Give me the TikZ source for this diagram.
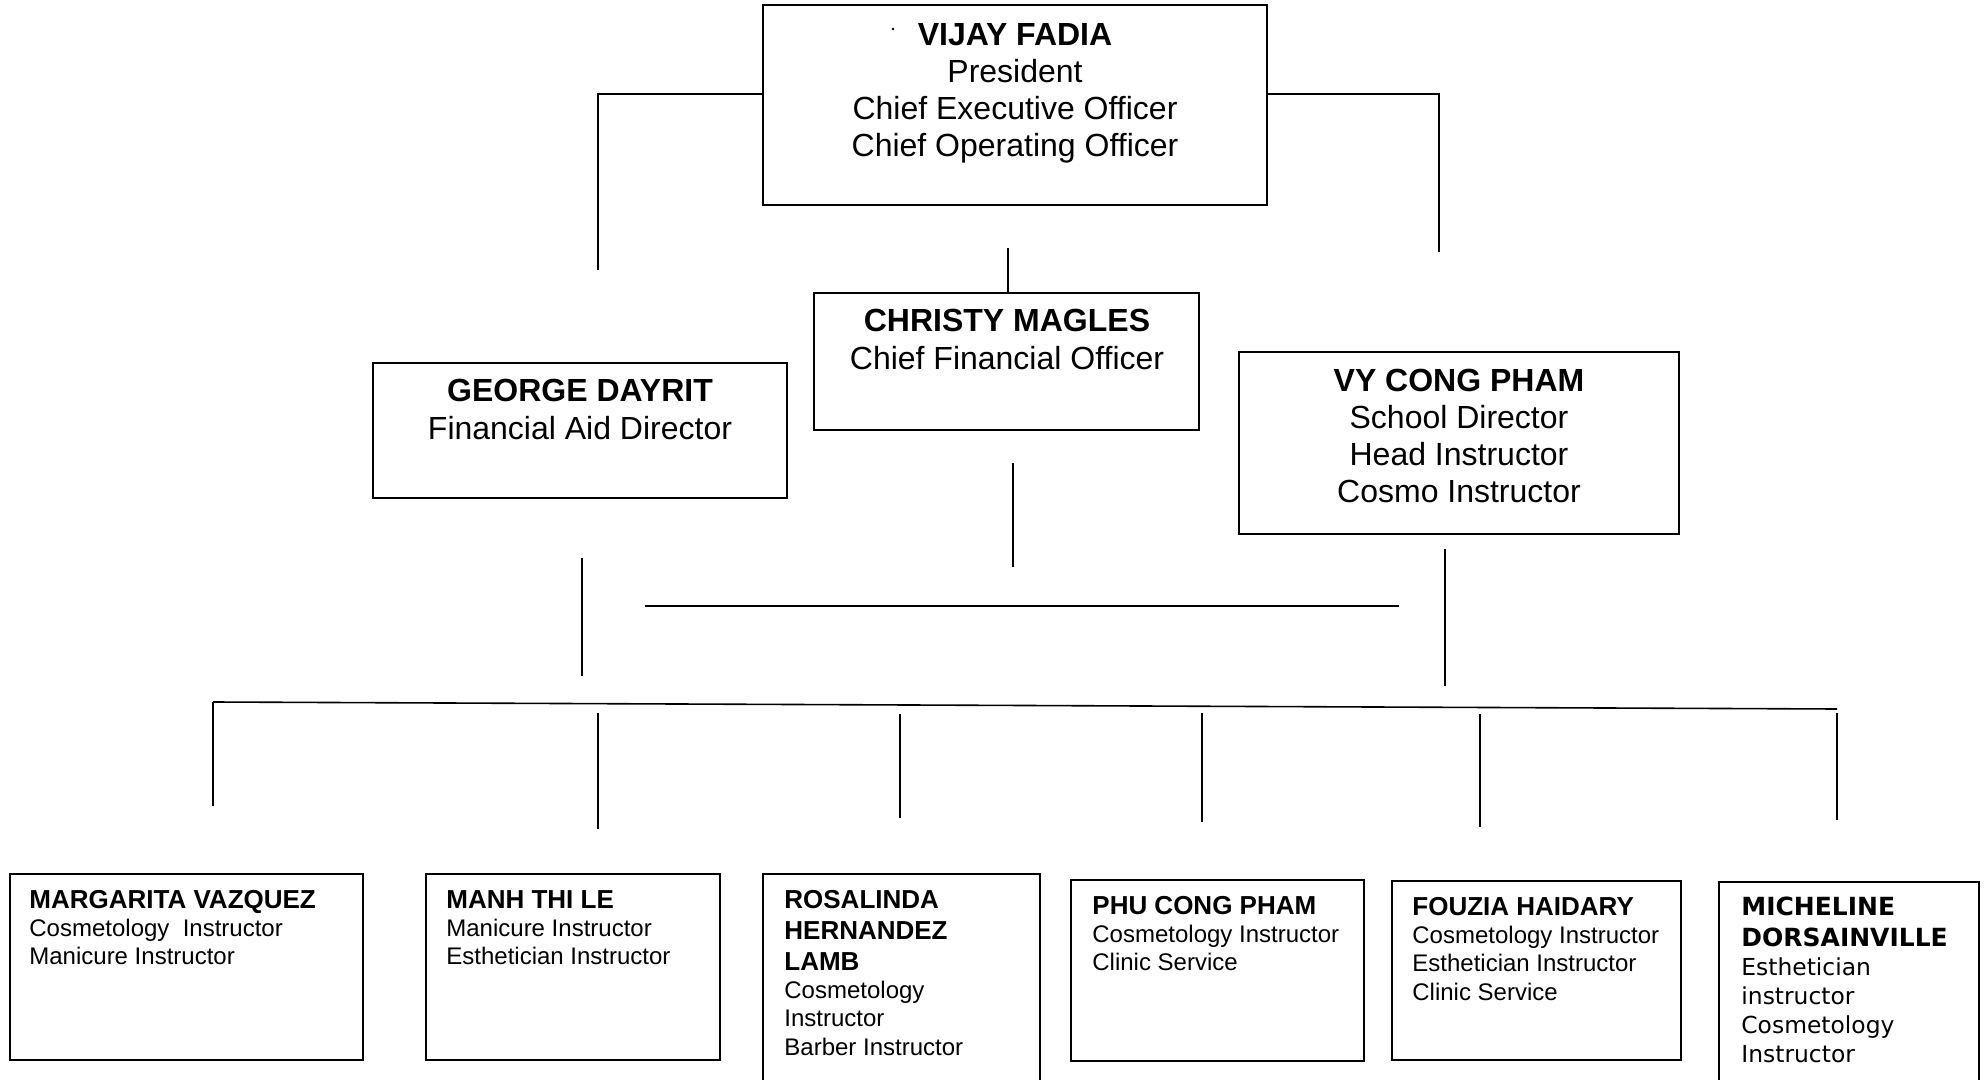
\documentclass[tikz,border=0pt]{standalone}
\usepackage{fontspec}
\setmainfont{Liberation Sans}
\newfontfamily\verdfont{DejaVu Sans}
\usetikzlibrary{fit}
\newcommand\upfont{\fontsize{16}{18.5}\selectfont}
\newcommand\lowname{\fontsize{13}{15.5}\selectfont\bfseries}
\newcommand\lowtext{\fontsize{12}{14.2}\selectfont}
\begin{document}
\begin{tikzpicture}[x=0.5pt,y=-0.5pt,
  box/.style={draw, line width=0.9pt, inner sep=0pt},
  conn/.style={line width=0.8pt},
  ctxt/.style={inner sep=0pt, anchor=base},
  ltxt/.style={inner sep=0pt, anchor=base west}]
\useasboundingbox (0,0) rectangle (1988,1080);
\clip (0,0) rectangle (1988,1080);

% upper boxes
\node[box, fit={(763,5) (1267,205)}] (vijay) {};
\node[box, fit={(814,293) (1199,430)}] (christy) {};
\node[box, fit={(373,363) (787,498)}] (george) {};
\node[box, fit={(1239,352) (1679,534)}] (vy) {};

% lower boxes
\node[box, fit={(10,874) (363,1060)}] (b1) {};
\node[box, fit={(426,874) (720,1060)}] (b2) {};
\node[box, fit={(763,874) (1040,1110)}] (b3) {};
\node[box, fit={(1071,880) (1364,1061)}] (b4) {};
\node[box, fit={(1392,881) (1681,1060)}] (b5) {};
\node[box, fit={(1719,882) (1979,1110)}] (b6) {};

% texts
\fill (893,29) circle[radius=0.7pt];
\node[ctxt] (tvijay) at (1015,46) {\parbox[t]{260pt}{\centering\upfont\textbf{VIJAY FADIA}\\President\\Chief Executive Officer\\Chief Operating Officer}};
\node[ctxt] (tchristy) at (1007,332) {\parbox[t]{190pt}{\centering\fontsize{16}{19}\selectfont\textbf{CHRISTY MAGLES}\\Chief Financial Officer}};
\node[ctxt] (tgeorge) at (580,402) {\parbox[t]{200pt}{\centering\fontsize{16}{19}\selectfont\textbf{GEORGE DAYRIT}\\Financial Aid Director}};
\node[ctxt] (tvy) at (1459,392) {\parbox[t]{210pt}{\centering\upfont\textbf{VY CONG PHAM}\\School Director\\Head Instructor\\Cosmo Instructor}};

\node[ltxt] (t1) at (29,908) {\parbox[t]{170pt}{\raggedright{\lowname MARGARITA VAZQUEZ\par}{\lowtext Cosmetology\ \ Instructor\\Manicure Instructor\par}}};
\node[ltxt] (t2) at (446,908) {\parbox[t]{135pt}{\raggedright{\lowname MANH THI LE\par}{\lowtext Manicure Instructor\\Esthetician Instructor\par}}};
\node[ltxt] (t3) at (784,908) {\parbox[t]{125pt}{\raggedright{\lowname ROSALINDA\\HERNANDEZ\\LAMB\par}{\lowtext Cosmetology\\Instructor\\Barber Instructor\par}}};
\node[ltxt] (t4) at (1092,914) {\parbox[t]{140pt}{\raggedright{\lowname PHU CONG PHAM\par}{\lowtext Cosmetology Instructor\\Clinic Service\par}}};
\node[ltxt] (t5) at (1412,915) {\parbox[t]{140pt}{\raggedright{\lowname FOUZIA HAIDARY\par}{\lowtext Cosmetology Instructor\\Esthetician Instructor\\Clinic Service\par}}};
\node[ltxt] (t6) at (1741,915) {\parbox[t]{120pt}{\raggedright\verdfont{\fontsize{12.5}{15.5}\selectfont\bfseries MICHELINE\\DORSAINVILLE\par}{\fontsize{11.7}{14.5}\selectfont Esthetician\\instructor\\Cosmetology\\Instructor\par}}};

% connectors
\coordinate (lend) at (598,270);
\coordinate (rend) at (1439,252);
\coordinate (ctop) at (1008,248);
\draw[conn] ([yshift=5.5pt]vijay.west) -| (lend);
\draw[conn] ([yshift=5.5pt]vijay.east) -| (rend);
\draw[conn] (ctop) -- (ctop |- christy.north);

\coordinate (cb1) at (1013,463); \coordinate (cb2) at (1013,567);
\draw[conn] (cb1) -- (cb2);
\coordinate (gb1) at (582,558); \coordinate (gb2) at (582,676);
\draw[conn] (gb1) -- (gb2);
\coordinate (vb1) at (1445,549); \coordinate (vb2) at (1445,686);
\draw[conn] (vb1) -- (vb2);
\coordinate (mh1) at (645,606); \coordinate (mh2) at (1399,606);
\draw[conn] (mh1) -- (mh2);

\coordinate (bh1) at (213,702); \coordinate (bh2) at (1837,709);
\draw[conn] (bh1) -- (bh2);
\coordinate (d1a) at (213,702); \coordinate (d1b) at (213,806);
\coordinate (d2a) at (598,713); \coordinate (d2b) at (598,829);
\coordinate (d3a) at (900,714); \coordinate (d3b) at (900,818);
\coordinate (d4a) at (1202,713); \coordinate (d4b) at (1202,822);
\coordinate (d5a) at (1480,714); \coordinate (d5b) at (1480,827);
\coordinate (d6a) at (1837,713); \coordinate (d6b) at (1837,820);
\foreach \i in {1,...,6} {\draw[conn] (d\i a) -- (d\i b);}
\end{tikzpicture}
\end{document}
